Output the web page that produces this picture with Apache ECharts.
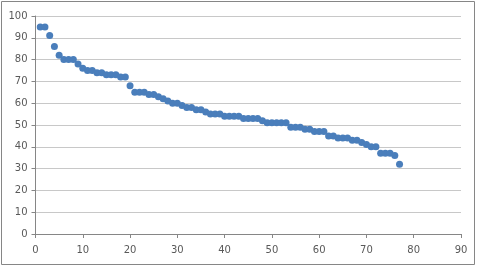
<!DOCTYPE html>
<html>
<head>
<meta charset="utf-8">
<script src="https://cdn.jsdelivr.net/npm/echarts@6/dist/echarts.min.js"></script>
<style>
  html, body { margin: 0; padding: 0; background: #fff; }
  #main { width: 482px; height: 268px; }
</style>
</head>
<body>
<div id="main"></div>
<script>
// values, x = 1..77
let yValues = [95, 95, 91, 86, 82, 80, 80, 80, 78, 76,
  75, 75, 74, 74, 73, 73, 73, 72, 72, 68,
  65, 65, 65, 64, 64, 63, 62, 61, 60, 60,
  59, 58, 58, 57, 57, 56, 55, 55, 55, 54,
  54, 54, 54, 53, 53, 53, 53, 52, 51, 51,
  51, 51, 51, 49, 49, 49, 48, 48, 47, 47,
  47, 45, 45, 44, 44, 44, 43, 43, 42, 41,
  40, 40, 37, 37, 37, 36, 32]
let xValues = yValues.map((v, i) => i + 1)
let xTicks = [0, 10, 20, 30, 40, 50, 60, 70, 80, 90]
let yTicks = [0, 10, 20, 30, 40, 50, 60, 70, 80, 90, 100]

let points = xValues.map((x, i) => [x, yValues[i]])

var myChart = echarts.init(document.getElementById('main'))

var labelStyle = {
  color: '#595959',
  fontSize: 10,
  fontFamily: 'DejaVu Sans'
}

var option = {
  animation: false,
  backgroundColor: '#fff',
  graphic: [{
    type: 'rect',
    shape: { x: 1.5, y: 1.5, width: 473, height: 263 },
    style: { fill: 'none', stroke: '#868686', lineWidth: 1 }
  }],
  grid: { left: 35.5, right: 21, top: 16, bottom: 34 },
  xAxis: {
    type: 'value',
    min: xTicks[0],
    max: xTicks[xTicks.length - 1],
    interval: 10,
    axisLine: { show: true, lineStyle: { color: '#868686' } },
    axisTick: { show: true, length: 4, lineStyle: { color: '#868686' } },
    axisLabel: Object.assign({ margin: 11 }, labelStyle),
    splitLine: { show: false }
  },
  yAxis: {
    type: 'value',
    min: yTicks[0],
    max: yTicks[yTicks.length - 1],
    interval: 10,
    axisLine: { show: true, lineStyle: { color: '#868686' } },
    axisTick: { show: true, length: 4, lineStyle: { color: '#868686' } },
    axisLabel: Object.assign({ margin: 8 }, labelStyle),
    splitLine: { show: true, lineStyle: { color: '#c8c8c8' } }
  },
  series: [{
    type: 'scatter',
    data: points,
    symbol: 'circle',
    symbolSize: 7,
    itemStyle: { color: '#4a7ebb', opacity: 1 }
  }]
}

myChart.setOption(option)
</script>
</body>
</html>
